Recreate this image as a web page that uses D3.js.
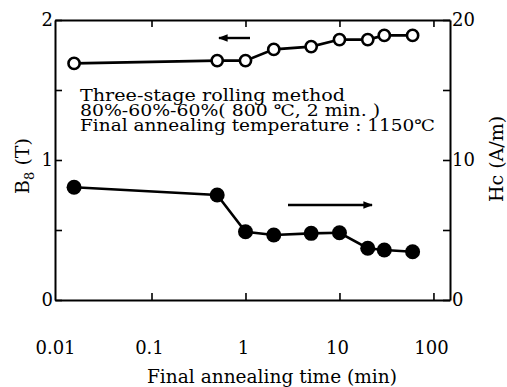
<!DOCTYPE html>
<html>
<head>
<meta charset="utf-8">
<script src="https://d3js.org/d3.v7.min.js"></script>
<style>
  body { margin: 0; background: #fff; }
  text { font-family: "DejaVu Serif", "Liberation Serif", serif; fill: #000; }
</style>
</head>
<body>
<script>
// annealing time (min)
var times = [0.015, 0.5, 1, 2, 5, 10, 20, 30, 60];
// saturation induction (T), open circles, left axis
var bsValues = [1.69, 1.71, 1.71, 1.79, 1.81, 1.86, 1.86, 1.89, 1.89];
// coercivity (A/m), filled circles, right axis
var hcValues = [8.05, 7.5, 4.88, 4.64, 4.76, 4.8, 3.7, 3.57, 3.45];

var xTicks = [0.01, 0.1, 1, 10, 100];
var xTickLabels = ["0.01", "0.1", "1", "10", "100"];
var bsTicks = [0, 0.5, 1, 1.5, 2];
var bsTickLabels = ["0", "", "1", "", "2"];
var hcTicks = [0, 5, 10, 15, 20];
var hcTickLabels = ["0", "", "10", "", "20"];

var notes = [
  "Three-stage rolling method",
  "80%-60%-60%( 800 \u2103, 2 min. )",
  "Final annealing temperature : 1150\u2103"
];
var noteWidths = [265, 300, 355];

var width = 507, height = 387;
var plotL = 55, plotR = 450, plotT = 20, plotB = 300;

var svg = d3.select("body").append("svg")
  .attr("width", width)
  .attr("height", height);

var x = d3.scaleLog().domain([0.0094, 150]).range([plotL, plotR]);
var yB = d3.scaleLinear().domain([0, 2]).range([plotB, plotT]);
var yH = d3.scaleLinear().domain([0, 20]).range([plotB, plotT]);

// axes, ticks pointing inside
function styleAxis(g) {
  g.selectAll("path.domain").attr("stroke", "#000").attr("stroke-width", 2);
  g.selectAll(".tick line").attr("stroke", "#000").attr("stroke-width", 1.6);
  g.selectAll(".tick text").style("font-size", "18px").attr("fill", "#000")
    .style("font-family", "'DejaVu Serif', serif");
}

var xMajor = xTicks.slice(1);
svg.append("g").attr("transform", "translate(0," + plotB + ")")
  .call(d3.axisBottom(x).tickValues(xMajor).tickSize(-7).tickSizeOuter(0).tickFormat(""))
  .call(styleAxis);
svg.append("g").attr("transform", "translate(0," + plotT + ")")
  .call(d3.axisTop(x).tickValues(xMajor).tickSize(-7).tickSizeOuter(0).tickFormat(""))
  .call(styleAxis);

svg.selectAll("text.xlab").data(xTicks).enter().append("text")
  .attr("class", "xlab")
  .attr("x", function(d) { return x(d) - 2; })
  .attr("y", 354)
  .attr("text-anchor", "middle")
  .style("font-size", "18px")
  .text(function(d, i) { return xTickLabels[i]; });

svg.append("g").attr("transform", "translate(" + plotL + ",0)")
  .call(d3.axisLeft(yB).tickValues(bsTicks).tickSize(-7).tickSizeOuter(0).tickPadding(2)
    .tickFormat(function(d, i) { return bsTickLabels[i]; }))
  .call(styleAxis);
svg.append("g").attr("transform", "translate(" + plotR + ",0)")
  .call(d3.axisRight(yH).tickValues(hcTicks).tickSize(-7).tickSizeOuter(0).tickPadding(2)
    .tickFormat(function(d, i) { return hcTickLabels[i]; }))
  .call(styleAxis);

// data lines
var lineB = d3.line().x(function(d, i) { return x(times[i]); }).y(function(d) { return yB(d); });
var lineH = d3.line().x(function(d, i) { return x(times[i]); }).y(function(d) { return yH(d); });

svg.append("path").datum(bsValues).attr("d", lineB)
  .attr("fill", "none").attr("stroke", "#000").attr("stroke-width", 2.6);
svg.append("path").datum(hcValues).attr("d", lineH)
  .attr("fill", "none").attr("stroke", "#000").attr("stroke-width", 2.6);

svg.selectAll("circle.bs").data(bsValues).enter().append("circle")
  .attr("class", "bs")
  .attr("cx", function(d, i) { return x(times[i]); })
  .attr("cy", function(d) { return yB(d); })
  .attr("r", 5.6)
  .attr("fill", "#fff").attr("stroke", "#000").attr("stroke-width", 2.6);

svg.selectAll("circle.hc").data(hcValues).enter().append("circle")
  .attr("class", "hc")
  .attr("cx", function(d, i) { return x(times[i]); })
  .attr("cy", function(d) { return yH(d); })
  .attr("r", 7.5)
  .attr("fill", "#000");

// arrows showing which axis each curve uses
var defs = svg.append("defs");
defs.append("marker").attr("id", "head")
  .attr("viewBox", "0 0 10 10").attr("refX", 9).attr("refY", 5)
  .attr("markerWidth", 5).attr("markerHeight", 4).attr("orient", "auto")
  .append("path").attr("d", "M0,1L10,5L0,9Z").attr("fill", "#000");

svg.append("line").attr("x1", 250).attr("y1", 38).attr("x2", 219).attr("y2", 38)
  .attr("stroke", "#000").attr("stroke-width", 2.4).attr("marker-end", "url(#head)");
svg.append("line").attr("x1", 288).attr("y1", 205).attr("x2", 372).attr("y2", 205)
  .attr("stroke", "#000").attr("stroke-width", 2.4).attr("marker-end", "url(#head)");

// notes
svg.selectAll("text.note").data(notes).enter().append("text")
  .attr("class", "note")
  .attr("x", 80)
  .attr("y", function(d, i) { return 101 + i * 15; })
  .attr("textLength", function(d, i) { return noteWidths[i]; })
  .attr("lengthAdjust", "spacingAndGlyphs")
  .style("font-size", "16px")
  .text(function(d) { return d; });

// axis titles
svg.append("text")
  .attr("x", 147).attr("y", 383)
  .attr("textLength", 250)
  .attr("lengthAdjust", "spacingAndGlyphs")
  .style("font-size", "18px")
  .text("Final annealing time (min)");

var bLabel = svg.append("text")
  .attr("transform", "translate(29,166) rotate(-90)")
  .attr("text-anchor", "middle")
  .style("font-size", "19px");
bLabel.append("tspan").text("B");
bLabel.append("tspan").attr("dy", 5).style("font-size", "13px").text("8");
bLabel.append("tspan").attr("dy", -5).text(" (T)");

svg.append("text")
  .attr("transform", "translate(503,159) rotate(-90)")
  .attr("text-anchor", "middle")
  .style("font-size", "19px")
  .text("Hc (A/m)");
</script>
</body>
</html>
